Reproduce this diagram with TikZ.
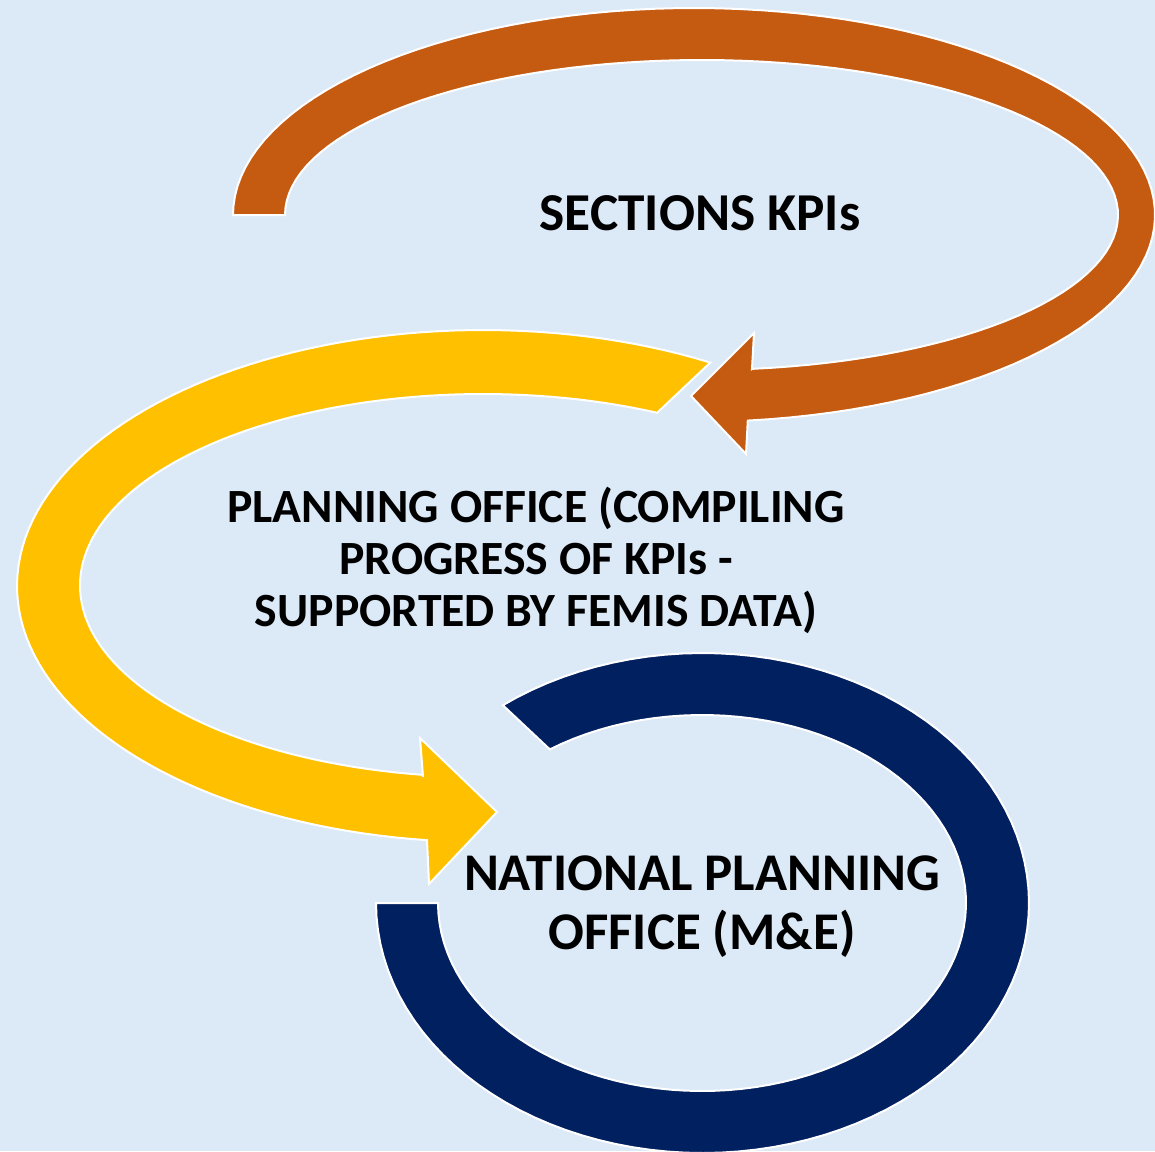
\documentclass[tikz,border=0pt]{standalone}
\usepackage{fontspec}
\setmainfont{Carlito}
\definecolor{bgblue}{RGB}{220,233,247}
\definecolor{kpiorange}{RGB}{197,90,17}
\definecolor{planyellow}{RGB}{255,192,0}
\definecolor{nponavy}{RGB}{0,32,96}

\begin{document}
\begin{tikzpicture}[
    x=1pt,
    y=-1pt,
    band/.style={draw=white, line width=2pt, line join=miter},
    heading/.style={align=center, text=black, inner sep=0pt}
  ]
  \fill[bgblue] (0,0) rectangle (1155,1151);
  \useasboundingbox (0,0) rectangle (1155,1151);

  % sections -> planning office
  \draw[band, fill=kpiorange]
    plot[domain=180:443.3, samples=100] ({694+461*cos(\x)}, {215+207*sin(\x)})
    -- (746,454) -- (691,396) -- (754,333) -- (752,369)
    -- plot[domain=443:180, samples=100] ({701.5+416.5*cos(\x)}, {215+155*sin(\x)})
    -- cycle;

  % planning office -> national planning office
  \draw[band, fill=planyellow]
    plot[domain=-60.8:-263.1, samples=100] ({483+466*cos(\x)}, {586+256*sin(\x)})
    -- (429,884) -- (497,812) -- (420,738) -- (423,777)
    -- plot[domain=-261.4:-64.4, samples=100] ({483+403*cos(\x)}, {585.5+191.5*sin(\x)})
    -- cycle;

  % national planning office
  \draw[band, fill=nponavy]
    plot[domain=-127.7:180, samples=100] ({702.5+326.5*cos(\x)}, {903+250*sin(\x)})
    -- plot[domain=180:-125.2, samples=100] ({702+264*cos(\x)}, {903+188*sin(\x)})
    -- cycle;

  \node[heading, font=\fontsize{53.3}{60}\selectfont\bfseries] (sections) at (700,213)
    {SECTIONS KPIs};
  \node[heading, font=\fontsize{47.7}{52}\selectfont\bfseries] (planning) at (536,560)
    {PLANNING OFFICE (COMPILING\\PROGRESS OF KPIs -\\SUPPORTED BY FEMIS DATA)};
  \node[heading, font=\fontsize{53}{59}\selectfont\bfseries] (npo) at (702,907)
    {NATIONAL PLANNING\\OFFICE (M\&E)};
\end{tikzpicture}
\end{document}
